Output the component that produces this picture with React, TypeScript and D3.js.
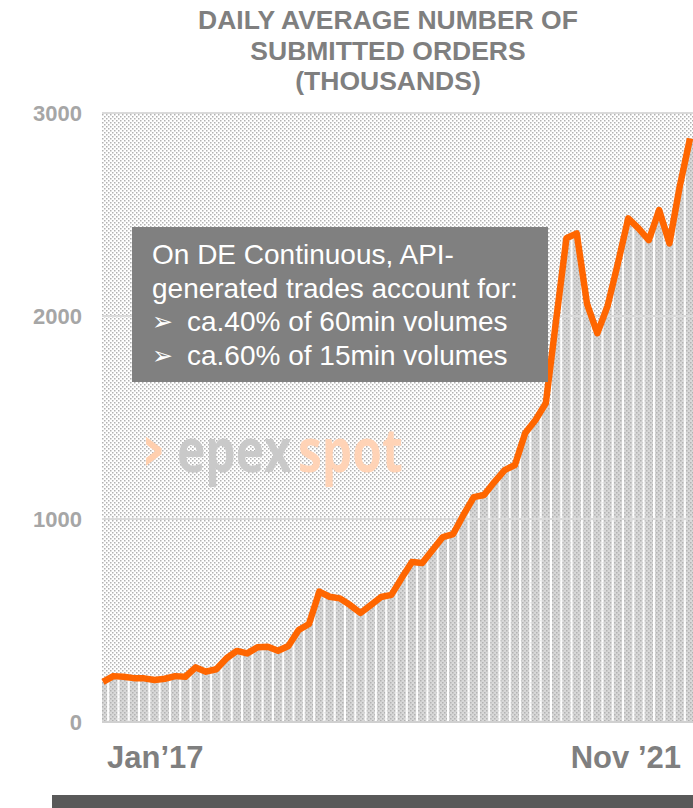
import React, { useEffect, useRef } from 'react';
import * as d3 from 'd3';

// daily average submitted orders (thousands), monthly, from Jan'17
const orders = [198, 226, 223, 216, 215, 207, 213, 226, 223, 269, 248, 260, 314, 350, 338, 368, 371, 351, 374, 453,
  483, 642, 617, 609, 576, 537, 576, 616, 626, 709, 788, 783, 847, 911, 926, 1020, 1108, 1118, 1182, 1241,
  1266, 1424, 1488, 1571, 1980, 2383, 2407, 2060, 1915, 2050, 2260, 2481, 2432, 2374, 2522, 2358, 2637, 2875];
const yTicks = [0, 1000, 2000, 3000];
const xLabels = ['Jan\u201917', 'Nov \u201921'];
const titleLines = ['DAILY AVERAGE NUMBER OF', 'SUBMITTED ORDERS', '(THOUSANDS)'];
const noteLines = ['On DE Continuous, API-', 'generated trades account for:'];
const bulletLines = ['ca.40% of 60min volumes', 'ca.60% of 15min volumes'];

const FONT = '"Liberation Sans", Arial, sans-serif';
const LOGO_FONT = '"Open Sans", "DejaVu Sans", sans-serif';

export default function App() {
  const ref = useRef<SVGSVGElement>(null);

  useEffect(() => {
    const width = 693, height = 808;
    const left = 102, right = 693, top = 113, bottom = 722;
    const svg = d3.select(ref.current);
    svg.selectAll('*').remove();
    svg.attr('width', width).attr('height', height);

    const defs = svg.append('defs');
    const makeDots = (id: string, base: string) => {
      const p = defs.append('pattern').attr('id', id)
        .attr('patternUnits', 'userSpaceOnUse')
        .attr('width', 4).attr('height', 4);
      p.append('rect').attr('width', 4).attr('height', 4).attr('fill', base);
      p.append('rect').attr('x', 0).attr('y', 0).attr('width', 1.5).attr('height', 1.5).attr('fill', '#b2b2b2');
      p.append('rect').attr('x', 2).attr('y', 2).attr('width', 1.5).attr('height', 1.5).attr('fill', '#b2b2b2');
    };
    makeDots('bgDots', '#ffffff');
    makeDots('barDots', '#d8d8d8');
    defs.append('clipPath').attr('id', 'plotClip')
      .append('rect').attr('x', left).attr('y', 0).attr('width', right - left).attr('height', height);

    const x = d3.scalePoint<number>().domain(orders.map((_, i) => i)).range([103, 690]);
    const step = x.step();
    const y = d3.scaleLinear().domain([0, 3000]).range([bottom, top]);

    // plot background
    svg.append('rect')
      .attr('x', left).attr('y', top).attr('width', right - left).attr('height', bottom - top)
      .attr('fill', 'url(#bgDots)');

    const plot = svg.append('g').attr('clip-path', 'url(#plotClip)');

    plot.selectAll('rect.gap').data(orders).enter().append('rect')
      .attr('class', 'gap')
      .attr('x', (d, i) => (x(i) as number) - step / 2)
      .attr('y', d => y(d))
      .attr('width', step)
      .attr('height', d => bottom - y(d))
      .attr('fill', '#ffffff');
    plot.selectAll('rect.bar').data(orders).enter().append('rect')
      .attr('class', 'bar')
      .attr('x', (d, i) => (x(i) as number) - step / 2 + 1)
      .attr('y', d => y(d))
      .attr('width', step - 2)
      .attr('height', d => bottom - y(d))
      .attr('fill', 'url(#barDots)');

    // gridlines
    svg.selectAll('line.grid').data(yTicks).enter().append('line')
      .attr('class', 'grid')
      .attr('x1', left).attr('x2', right)
      .attr('y1', d => y(d)).attr('y2', d => y(d))
      .attr('stroke', d => (d === 0 ? '#d0d0d0' : '#dadada'))
      .attr('stroke-width', 2);

    // y labels
    svg.selectAll('text.ytick').data(yTicks).enter().append('text')
      .attr('class', 'ytick')
      .attr('x', 82)
      .attr('y', d => y(d) + 8)
      .attr('text-anchor', 'end')
      .attr('font-family', FONT).attr('font-weight', 'bold').attr('font-size', 22)
      .attr('fill', '#a6a6a6')
      .text(d => d);

    // watermark (narrow glyphs, stretched vertically)
    svg.append('text')
      .attr('x', 140).attr('y', 470)
      .attr('font-family', '"DejaVu Sans", sans-serif').attr('font-weight', 'bold').attr('font-size', 64)
      .attr('fill', '#ffcfae').text('\u203a');
    const logo = svg.append('g').attr('transform', 'translate(177,472) scale(1,1.25)');
    logo.append('text')
      .attr('x', 0).attr('y', 0)
      .attr('font-family', LOGO_FONT).attr('font-weight', 'bold').attr('font-size', 48)
      .attr('fill', '#c9c9c9').text('epex');
    logo.append('text')
      .attr('x', 121).attr('y', 0)
      .attr('font-family', LOGO_FONT).attr('font-weight', 'bold').attr('font-size', 48)
      .attr('fill', '#ffd3b6').text('spot');

    // orange line
    const line = d3.line<number>()
      .x((d, i) => x(i) as number)
      .y(d => y(d));
    svg.append('path')
      .datum(orders)
      .attr('d', line)
      .attr('fill', 'none')
      .attr('stroke', '#ff6600')
      .attr('stroke-width', 6.5)
      .attr('stroke-linejoin', 'round');

    // note box
    svg.append('rect')
      .attr('x', 132).attr('y', 227).attr('width', 416).attr('height', 155)
      .attr('fill', '#808080');
    noteLines.forEach((t, i) => {
      svg.append('text')
        .attr('x', 152).attr('y', 264 + i * 33.5)
        .attr('font-family', FONT).attr('font-size', 28).attr('fill', '#ffffff')
        .text(t);
    });
    bulletLines.forEach((t, i) => {
      const ty = 264 + (i + 2) * 33.5;
      svg.append('text')
        .attr('x', 152).attr('y', ty - 1)
        .attr('font-family', '"DejaVu Sans", sans-serif').attr('font-size', 25).attr('fill', '#ffffff')
        .text('\u27a2');
      svg.append('text')
        .attr('x', 187).attr('y', ty)
        .attr('font-family', FONT).attr('font-size', 28).attr('fill', '#ffffff')
        .text(t);
    });

    // title
    titleLines.forEach((t, i) => {
      svg.append('text')
        .attr('x', 388).attr('y', 29 + i * 30.5)
        .attr('text-anchor', 'middle')
        .attr('font-family', FONT).attr('font-weight', 'bold').attr('font-size', 26.5)
        .attr('fill', '#7f7f7f')
        .text(t);
    });

    // x labels
    svg.append('text')
      .attr('x', 107).attr('y', 768)
      .attr('font-family', FONT).attr('font-weight', 'bold').attr('font-size', 31)
      .attr('fill', '#7f7f7f').text(xLabels[0]);
    svg.append('text')
      .attr('x', 681).attr('y', 768)
      .attr('text-anchor', 'end')
      .attr('font-family', FONT).attr('font-weight', 'bold').attr('font-size', 31)
      .attr('fill', '#7f7f7f').text(xLabels[1]);

    // dark footer bar
    svg.append('rect')
      .attr('x', 52).attr('y', 795).attr('width', width - 52).attr('height', 13)
      .attr('fill', '#595959');
  }, []);

  return (
    <svg ref={ref} style={{ position: 'absolute', left: 0, top: 0, display: 'block' }} />
  );
}
